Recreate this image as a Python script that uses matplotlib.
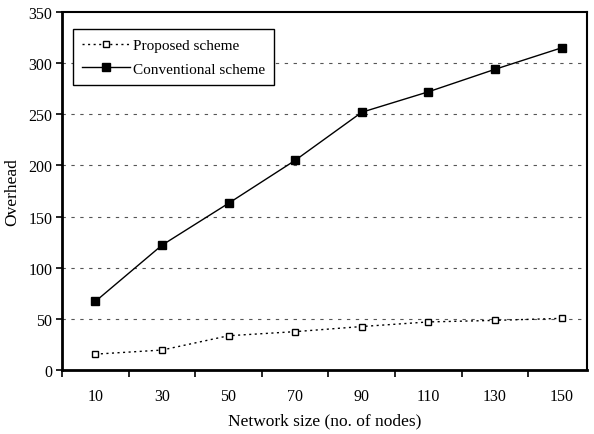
import matplotlib
matplotlib.use("Agg")
import matplotlib.pyplot as plt
import numpy as np

categories = ["10", "30", "50", "70", "90", "110", "130", "150"]
proposed = [15.5, 19.5, 33.5, 37.5, 42.5, 47, 48.5, 50.5]
conventional = [67, 122, 163, 205, 252, 272, 294, 315]

plt.rcParams['font.family'] = ['Liberation Serif', 'DejaVu Serif']

fig = plt.figure(figsize=(5.94, 4.35), dpi=100)
ax = fig.add_axes([62/594, 64/435, (587-62)/594, (371-13)/435])

x = np.arange(len(categories))
ax.plot(x, proposed, linestyle=(0, (1.5, 2.5)), color='black', linewidth=1.0,
        marker='s', markersize=4.8, markerfacecolor='white', markeredgecolor='black',
        markeredgewidth=1.0, label='Proposed scheme')
ax.plot(x, conventional, linestyle='-', color='black', linewidth=1.0,
        marker='s', markersize=5.5, markerfacecolor='black', markeredgecolor='black',
        label='Conventional scheme')

ax.set_ylim(0, 350)
ax.set_yticks(np.arange(0, 351, 50))
ax.set_xlim(-0.48, 7.38)
ax.set_xticks(x)
ax.set_xticklabels(categories)
ax.set_xticks(np.arange(-0.5, 7.5, 1), minor=True)
ax.tick_params(axis='x', which='major', length=0, pad=13, labelsize=11.5)
ax.tick_params(axis='x', which='minor', length=5, width=1.2, direction='out')
ax.tick_params(axis='y', length=4, width=1.2, direction='out', labelsize=11.5, pad=3)

for v in range(50, 350, 50):
    ax.axhline(v, color='#555555', linestyle=(0, (3, 5)), linewidth=0.8, zorder=0)

for s in ['left', 'bottom']:
    ax.spines[s].set_linewidth(2.0)
for s in ['top', 'right']:
    ax.spines[s].set_linewidth(1.5)

ax.set_ylabel('Overhead', fontsize=12.5, labelpad=6)
ax.set_xlabel('Network size (no. of nodes)', fontsize=12.5, labelpad=6)

leg = ax.legend(loc='upper left', bbox_to_anchor=(0.021, 0.952), borderaxespad=0,
                fontsize=11, frameon=True, fancybox=False, edgecolor='black',
                framealpha=1, handlelength=3.1, borderpad=0.6, labelspacing=0.65,
                handletextpad=0.2)
leg.get_frame().set_linewidth(1.0)

fig.savefig('out.png', dpi=100)
